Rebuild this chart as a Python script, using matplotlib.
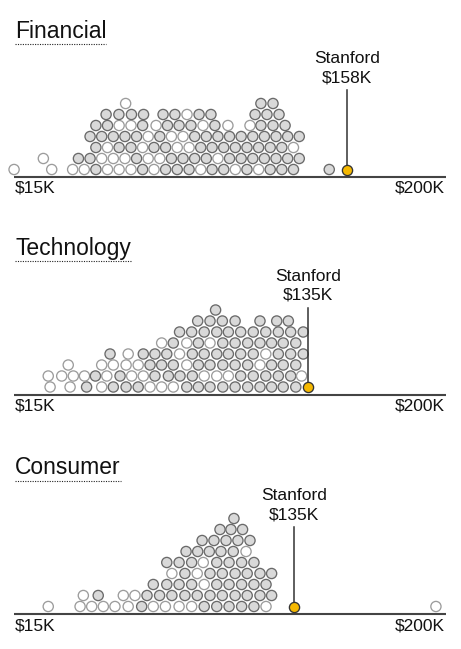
import matplotlib
matplotlib.use('Agg')
import matplotlib.pyplot as plt

plt.rcParams['font.family'] = ['Liberation Sans', 'DejaVu Sans']

# 業種とスタンフォードの年収 ($K)
sectors = ['Financial', 'Technology', 'Consumer']
stanford_k = [158, 135, 135]
tick_values = [15, 200]
tick_labels = ['\\$15K', '\\$200K']

# 各校の年収 ($K)、下の段から順に並べてある。1 = 灰色の点、0 = 白い点
fin_salary = [14.6, 30.8, 39.8, 44.8, 49.8, 54.8, 59.8, 64.9, 69.9, 74.8, 79.8, 84.8, 89.9, 94.9, 99.8, 104.8, 109.8, 114.8, 119.8, 124.8, 129.8, 134.8, 150.2,
              27.2, 42.3, 47.3, 52.3, 57.3, 62.3, 67.3, 72.3, 77.3, 82.3, 87.3, 92.3, 97.3, 102.3, 107.3, 112.3, 117.3, 122.3, 127.3, 132.3, 137.3,
              49.8, 54.8, 59.8, 64.9, 69.9, 74.8, 79.8, 84.8, 89.9, 94.9, 99.8, 104.8, 109.8, 114.8, 119.8, 124.8, 129.8, 134.8,
              47.3, 52.3, 57.3, 62.3, 67.3, 72.3, 77.3, 82.3, 87.3, 92.3, 97.3, 102.3, 107.3, 112.3, 117.3, 122.3, 127.3, 132.3, 137.3,
              49.8, 54.8, 59.8, 64.9, 69.9, 75.7, 80.6, 85.6, 90.7, 95.9, 101.0, 106.6, 116.1, 120.8, 126.0, 131.2,
              54.2, 59.7, 65.1, 70.3, 78.7, 83.8, 89.0, 94.2, 99.3, 118.3, 123.4, 128.6,
              62.6, 120.8, 126.0]
fin_grey = [0, 0, 0, 0, 1, 0, 0, 0, 1, 0, 1, 1, 1, 0, 1, 1, 0, 1, 0, 1, 1, 1, 1,
            0, 1, 1, 0, 0, 0, 1, 0, 0, 1, 1, 1, 1, 0, 1, 1, 1, 1, 1, 1, 1,
            1, 0, 1, 1, 0, 1, 1, 0, 0, 1, 1, 1, 1, 1, 1, 1, 1, 0,
            1, 1, 1, 1, 1, 0, 1, 0, 0, 1, 1, 1, 1, 1, 1, 1, 1, 1, 1,
            1, 1, 0, 0, 1, 0, 1, 1, 1, 0, 1, 0, 0, 1, 1, 1,
            1, 1, 1, 1, 1, 1, 0, 1, 1, 1, 1, 1,
            0, 1, 1]

tech_salary = [30.1, 38.7, 45.8, 52.3, 57.3, 62.8, 68.0, 73.1, 78.1, 83.1, 88.9, 93.9, 98.9, 104.4, 109.7, 115.1, 120.4, 125.4, 130.4, 135.8,
               29.3, 35.1, 40.1, 44.9, 49.6, 54.5, 60.2, 65.2, 70.2, 75.2, 81.0, 86.0, 91.3, 96.4, 101.8, 106.8, 112.1, 117.5, 122.9, 128.3, 133.6, 138.3,
               37.9, 52.3, 57.3, 62.8, 68.0, 73.1, 78.1, 83.1, 88.9, 93.9, 98.9, 104.4, 109.7, 115.1, 120.4, 125.4, 130.4, 135.8,
               55.9, 63.7, 70.2, 75.2, 80.3, 85.8, 91.3, 96.4, 101.8, 106.8, 112.1, 117.5, 122.9, 128.3, 133.6, 139.0,
               78.1, 83.1, 88.9, 93.9, 98.9, 104.4, 109.7, 115.1, 120.4, 125.4, 130.4, 135.8,
               85.8, 91.0, 96.4, 101.8, 106.8, 112.1, 117.5, 122.9, 128.3, 133.6, 139.0,
               93.6, 98.9, 104.2, 109.7, 120.4, 127.6, 132.6,
               101.3]
tech_grey = [0, 0, 1, 0, 1, 1, 1, 0, 0, 0, 1, 1, 1, 1, 1, 1, 1, 1, 1, 1,
             0, 0, 0, 0, 1, 0, 1, 0, 0, 1, 1, 1, 1, 0, 0, 0, 1, 1, 1, 1, 1, 0,
             0, 0, 0, 0, 0, 1, 1, 1, 0, 1, 1, 1, 1, 1, 0, 1, 1, 1,
             1, 0, 1, 1, 1, 0, 1, 1, 1, 1, 1, 1, 0, 1, 1, 1,
             0, 1, 0, 1, 0, 1, 1, 1, 1, 1, 1, 1,
             1, 1, 1, 1, 1, 1, 1, 1, 1, 1, 1,
             1, 1, 1, 1, 1, 1, 1,
             1]

cons_salary = [29.3, 43.0, 48.0, 53.0, 58.0, 63.7, 69.5, 74.5, 79.7, 85.6, 91.0, 96.4, 101.8, 107.1, 112.5, 117.8, 123.0, 196.1,
               44.4, 50.8, 61.6, 66.6, 71.8, 77.2, 82.5, 88.1, 93.4, 98.9, 104.2, 109.7, 114.9, 120.4, 125.4,
               74.5, 80.3, 85.6, 91.0, 96.4, 101.8, 107.1, 112.5, 117.8, 123.0,
               82.5, 88.1, 93.4, 98.9, 104.2, 109.7, 114.9, 120.4, 125.4,
               80.3, 85.6, 91.0, 96.0, 101.8, 107.1, 112.5, 117.8,
               88.6, 93.6, 98.6, 103.6, 108.9, 114.4,
               95.5, 100.6, 105.8, 110.9, 116.1,
               103.2, 107.9, 112.9,
               109.2]
cons_grey = [0, 0, 0, 0, 0, 0, 1, 0, 0, 0, 0, 1, 1, 1, 1, 1, 0, 0,
             0, 1, 0, 0, 1, 1, 1, 1, 1, 1, 1, 1, 1, 1, 1,
             1, 1, 1, 1, 0, 1, 1, 1, 1, 1,
             0, 1, 0, 1, 1, 1, 1, 1, 1,
             1, 1, 1, 0, 1, 1, 1, 1,
             1, 1, 1, 1, 1, 0,
             1, 1, 1, 1, 1,
             1, 1, 1,
             1]

salaries = [fin_salary, tech_salary, cons_salary]
greys = [fin_grey, tech_grey, cons_grey]


# 図の寸法 (px) と軸の換算
W, H = 461, 649
K_PER_PX = 185 / 430
def k_at(px): return 15 + (px - 15) * K_PER_PX

baselines = [177, 394.5, 614]
ROW_H = 11.0
BOTTOM = 7.5
GAP = 4.1     # 同じ段でこれより近いと重なる ($K)


# 下の段から順に、重ならない一番低い段に置く
def swarm(values):
    rows, levels = [], []
    for v in values:
        k = 0
        while k < len(rows) and any(abs(v - u) < GAP for u in rows[k]):
            k += 1
        if k == len(rows):
            rows.append([])
        rows[k].append(v)
        levels.append(k)
    return levels


# 強調する点は最下段で空いている所まで右へずらす
def park(v, values, levels):
    bottom = [u for u, k in zip(values, levels) if k == 0]
    x = v
    while any(abs(x - u) < 5.0 for u in bottom):
        x += 0.1
    return x


fig = plt.figure(figsize=(W / 100, H / 100), dpi=100)
ax = fig.add_axes([0, 0, 1, 1])
ax.set_xlim(k_at(0), k_at(W))
ax.set_ylim(H, 0)
ax.axis('off')

titles = []
for name, vals, grey, hi, base in zip(sectors, salaries, greys, stanford_k, baselines):
    levels = swarm(vals)
    ys = [base - BOTTOM - ROW_H * k for k in levels]
    face = ['#d9d9d9' if g else '#ffffff' for g in grey]
    edge = ['#6a6a6a' if g else '#9c9c9c' for g in grey]
    ax.scatter(vals, ys, s=54, c=face, edgecolors=edge, linewidths=0.95, zorder=3)

    ax.plot([k_at(14), k_at(446)], [base, base], color='#444444', lw=1.5, zorder=2,
            solid_capstyle='butt')
    for v, lab, ha in zip(tick_values, tick_labels, ['left', 'right']):
        ax.text(v, base + 16, lab, ha=ha, va='baseline', fontsize=12.5, color='#111111')

    x = park(hi, vals, levels)
    y = base - BOTTOM
    ax.plot([x, x], [base - 87, y - 5], color='#333333', lw=1.1, zorder=4)
    ax.scatter([x], [y], s=54, c='#f5b800', edgecolors='#333333', linewidths=0.95, zorder=5)
    ax.text(x, base - 113.7, 'Stanford', ha='center', va='baseline', fontsize=12.5, color='#111111')
    ax.text(x, base - 94.7, f'\\${hi}K', ha='center', va='baseline', fontsize=12.5, color='#111111')

    t = ax.text(15, base - 139.5, name, ha='left', va='baseline', fontsize=16.5, color='#111111')
    titles.append((t, base))

# タイトルの下の点線
fig.canvas.draw()
renderer = fig.canvas.get_renderer()
inv = ax.transData.inverted()
for t, base in titles:
    bb = t.get_window_extent(renderer)
    x0 = inv.transform((bb.x0, 0))[0]
    x1 = inv.transform((bb.x1, 0))[0]
    ax.plot([x0, x1], [base - 133.5, base - 133.5], color='#222222', lw=0.8,
            linestyle=(0, (1, 1.2)))

fig.savefig('out.png', dpi=100)
